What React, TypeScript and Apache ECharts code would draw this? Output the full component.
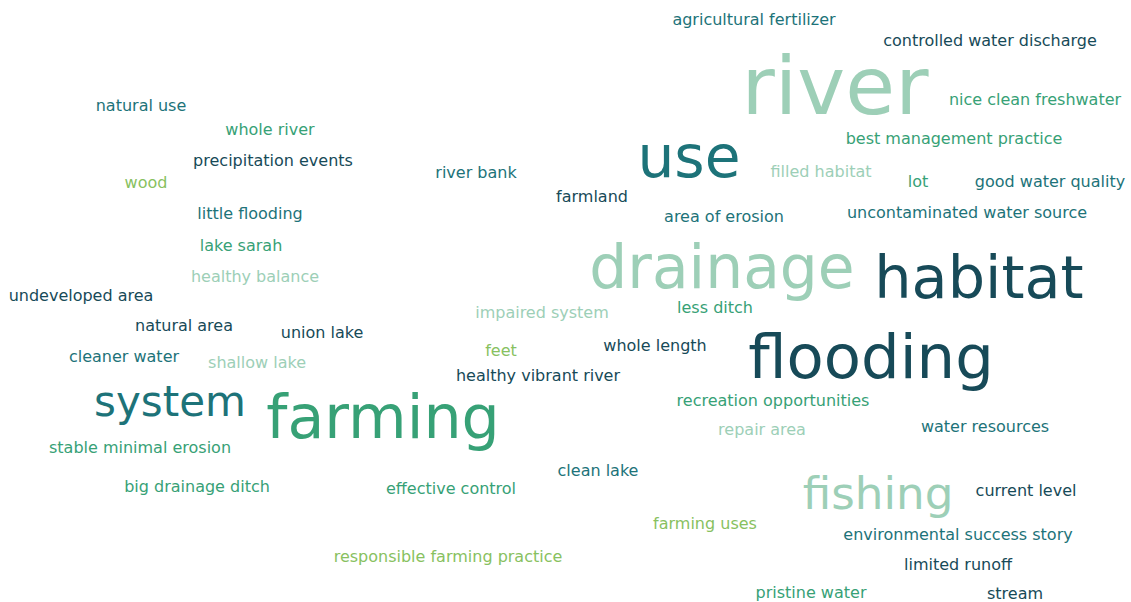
import React, { useEffect, useRef } from "react";
import * as echarts from "echarts";

// Word cloud content
const words: string[] = [
  "river", "use", "drainage", "habitat", "flooding", "farming", "system", "fishing",
  "agricultural fertilizer", "controlled water discharge", "natural use", "nice clean freshwater",
  "whole river", "best management practice", "precipitation events", "river bank",
  "filled habitat", "lot", "good water quality", "wood", "farmland", "little flooding",
  "area of erosion", "uncontaminated water source", "lake sarah", "healthy balance",
  "undeveloped area", "less ditch", "impaired system", "natural area", "union lake",
  "whole length", "feet", "cleaner water", "shallow lake", "healthy vibrant river",
  "recreation opportunities", "repair area", "water resources", "stable minimal erosion",
  "clean lake", "big drainage ditch", "effective control", "current level", "farming uses",
  "environmental success story", "responsible farming practice", "limited runoff",
  "pristine water", "stream",
];

// Relative frequency of each word
const frequencies: number[] = [
  21, 14, 14.5, 14.2, 14.8, 14.6, 9, 10,
  1, 1, 1, 1,
  1, 1, 1, 1,
  1, 1, 1, 1, 1, 1,
  1, 1, 1, 1,
  1, 1, 1, 1, 1,
  1, 1, 1, 1, 1,
  1, 1, 1, 1,
  1, 1, 1, 1, 1,
  1, 1, 1,
  1, 1,
];

// Theme group of each word (index into palette)
const groups: number[] = [
  3, 1, 3, 0, 0, 2, 1, 3,
  1, 0, 1, 2,
  2, 2, 0, 1,
  3, 2, 1, 4, 0, 1,
  1, 1, 2, 3,
  0, 2, 3, 0, 0,
  0, 4, 1, 3, 0,
  2, 3, 1, 2,
  1, 2, 2, 0, 4,
  1, 4, 0,
  2, 0,
];

// Layout coordinates produced by the cloud layout (x across, y down)
const layoutX: number[] = [
  835, 689, 722, 979, 871, 383, 170, 878,
  754, 990, 141, 1035,
  270, 954, 273, 476,
  821, 918, 1050, 146, 592, 250,
  724, 967, 241, 255,
  81, 715, 542, 184, 322,
  655, 501, 124, 257, 538,
  773, 762, 985, 140,
  598, 197, 451, 1026, 705,
  958, 448, 958,
  811, 1015,
];
const layoutY: number[] = [
  86, 157, 267, 277, 357, 417, 401, 493,
  19, 40, 105, 99,
  129, 138, 160, 172,
  171, 181, 181, 182, 196, 213,
  216, 212, 245, 276,
  295, 307, 312, 325, 332,
  345, 350, 356, 362, 375,
  400, 429, 426, 447,
  470, 486, 488, 490, 523,
  534, 556, 564,
  592, 593,
];

const palette: string[] = ["#174a58", "#1d7379", "#37a176", "#9dcfb7", "#88c15f"];

const W = 1131;
const H = 602;

export default function App() {
  const ref = useRef<HTMLDivElement>(null);
  useEffect(() => {
    document.body.style.margin = "0";
    if (!ref.current) return;
    const chart = echarts.init(ref.current, undefined, { renderer: "svg" });
    const data = words.map((w, i) => ({
      name: w,
      value: [layoutX[i], layoutY[i], frequencies[i]],
      label: {
        fontSize: 16 + (frequencies[i] - 1) * 3.25,
        color: palette[groups[i]],
      },
    }));
    chart.setOption({
      animation: false,
      backgroundColor: "#ffffff",
      grid: { left: 0, right: 0, top: 0, bottom: 0 },
      xAxis: { type: "value", min: 0, max: W, show: false },
      yAxis: { type: "value", min: 0, max: H, inverse: true, show: false },
      tooltip: { show: false },
      series: [
        {
          type: "scatter",
          symbolSize: 0,
          data,
          silent: true,
          itemStyle: { opacity: 1 },
          label: {
            show: true,
            position: "inside",
            formatter: "{b}",
            fontFamily: "DejaVu Sans",
            fontWeight: "normal",
            align: "center",
            verticalAlign: "middle",
            opacity: 1,
          },
          emphasis: { disabled: true },
        },
      ],
    });
    return () => chart.dispose();
  }, []);
  return <div ref={ref} style={{ width: W, height: H, background: "#fff" }} />;
}
